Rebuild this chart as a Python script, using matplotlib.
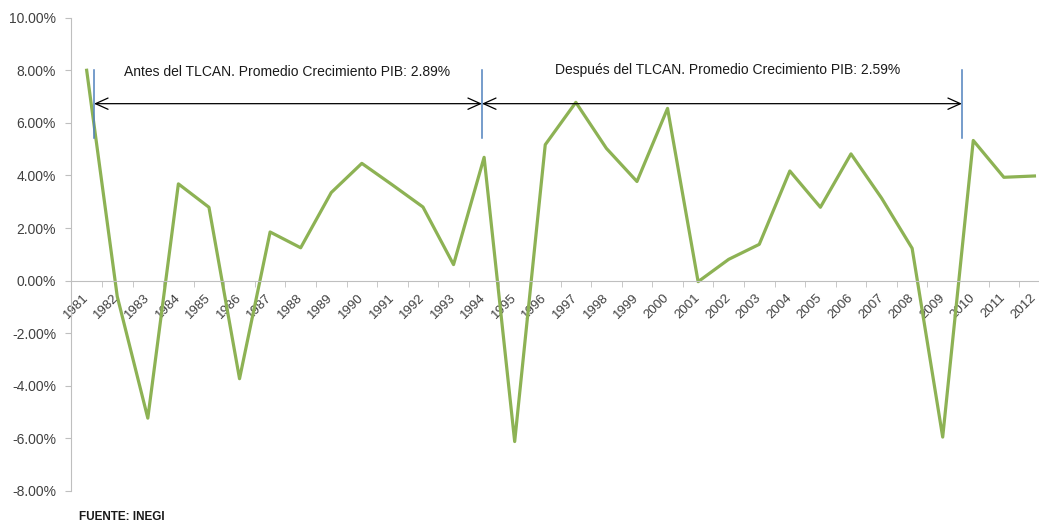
import numpy as np
import matplotlib.pyplot as plt

# PIB Mexico, crecimiento anual (%)
years = [str(y) for y in range(1981, 2013)]
growth = [8.0, -0.6, -5.23, 3.68, 2.79, -3.73, 1.85, 1.25, 3.35, 4.46,
          3.64, 2.80, 0.61, 4.69, -6.12, 5.17, 6.78, 5.03, 3.77, 6.55,
          -0.04, 0.81, 1.38, 4.17, 2.79, 4.82, 3.14, 1.23, -5.95, 5.33,
          3.93, 3.98]

# periodos marcados (antes / despues del TLCAN)
bracket_x = [0.24, 12.93, 28.63]
bracket_top, bracket_bottom = 8.0, 5.44
arrow_y = 6.73
labels = ['Antes del TLCAN. Promedio Crecimiento PIB: 2.89%',
          'Después del TLCAN. Promedio Crecimiento PIB: 2.59%']
label_pos = [(6.54, 7.95), (20.98, 8.02)]

plt.rcParams['font.family'] = ['Liberation Sans', 'DejaVu Sans']

fig = plt.figure(figsize=(10.39, 5.25), dpi=100)
ax = fig.add_axes([0.0687, 0.0648, 0.9416, 0.9015])

x = np.arange(len(years))
ax.plot(x, growth, color='#8DB254', lw=2.3, solid_joinstyle='round')

ax.set_xlim(-0.5, len(years) - 0.5)
ax.set_ylim(-8, 10)

# ejes
axis_gray = '#BFBFBF'
for s in ['top', 'right']:
    ax.spines[s].set_visible(False)
ax.spines['left'].set_color(axis_gray)
ax.spines['bottom'].set_color(axis_gray)
ax.spines['bottom'].set_position(('data', 0))

yt = np.arange(-8, 11, 2)
ax.set_yticks(yt)
ax.set_yticklabels(['%.2f%%' % v for v in yt])
ax.tick_params(axis='y', length=4, color=axis_gray, labelsize=10,
               labelcolor='#404040', pad=7)

ax.set_xticks(x)
ax.set_xticklabels(years, rotation=45, ha='right', va='center',
                   rotation_mode='anchor')
ax.set_xticks(np.arange(0.5, len(years), 1), minor=True)
ax.tick_params(axis='x', which='major', length=0, pad=11, labelsize=9.5,
               labelcolor='#404040')
ax.tick_params(axis='x', which='minor', length=4, color=axis_gray)

# lineas verticales y flechas
for bx in bracket_x:
    ax.plot([bx, bx], [bracket_top, bracket_bottom], color='#4F81BD', lw=1.1)
for i in range(2):
    ax.annotate('', xy=(bracket_x[i + 1], arrow_y), xytext=(bracket_x[i], arrow_y),
                arrowprops=dict(arrowstyle='<->, head_length=0.6, head_width=0.27',
                                color='black', lw=0.9, shrinkA=0, shrinkB=0,
                                mutation_scale=15))
    ax.text(label_pos[i][0], label_pos[i][1], labels[i], ha='center',
            va='center', fontsize=10, color='#1a1a1a')

fig.text(0.076, 0.015, 'FUENTE: INEGI', fontweight='bold', fontsize=8.5,
         va='center', color='#1a1a1a')

fig.savefig('out.png', dpi=100)
